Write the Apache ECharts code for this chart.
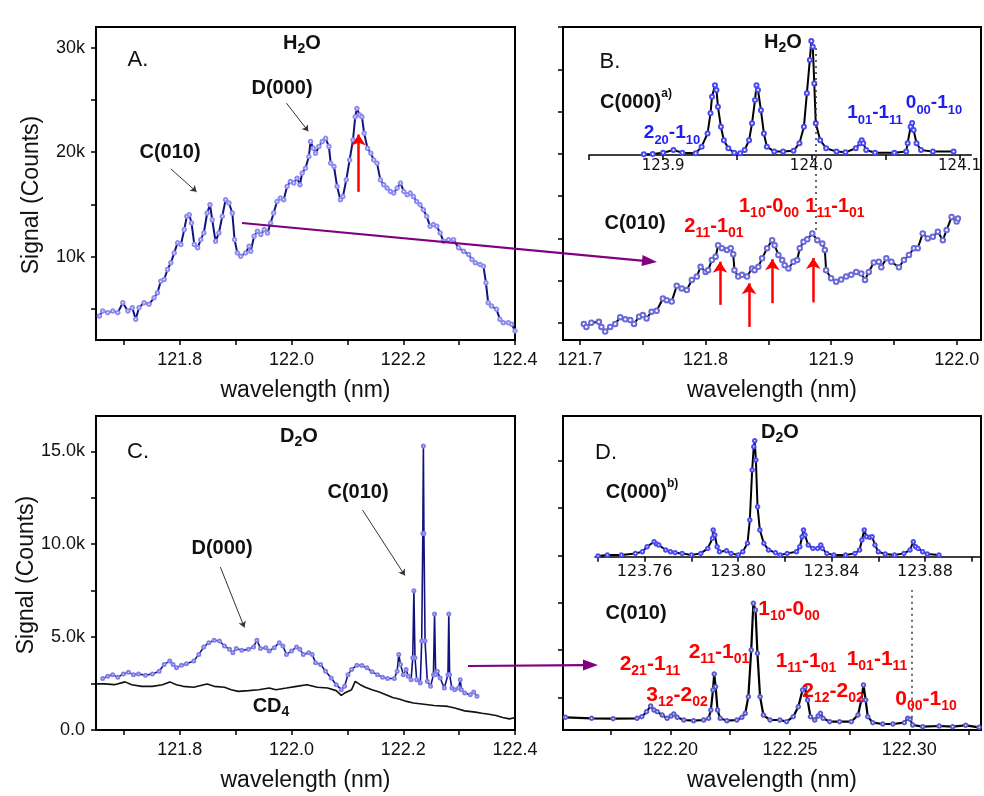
<!DOCTYPE html>
<html><head><meta charset="utf-8">
<script src="https://cdn.jsdelivr.net/npm/echarts@6/dist/echarts.min.js"></script>
<style>html,body{margin:0;padding:0;background:#fff}#c{width:984px;height:796px}</style>
</head><body><div id="c"></div>
<script>
// ---------- DATA (wavelength nm, signal) ----------
// Panel A: H2O survey, signal in k counts
const h2oSurvey = [[121.656,4.30],[121.662,4.78],[121.671,4.62],[121.680,4.78],[121.689,4.62],[121.698,5.57],[121.707,4.78],[121.715,5.10],[121.721,3.98],[121.727,5.10],[121.736,5.57],[121.745,5.42],[121.754,6.05],[121.760,6.53],[121.766,7.64],[121.772,7.80],[121.778,8.76],[121.784,9.40],[121.790,10.35],[121.796,11.31],[121.802,11.15],[121.808,12.58],[121.8125,13.85],[121.817,14.01],[121.821,13.22],[121.826,11.15],[121.832,10.83],[121.8375,11.62],[121.843,12.26],[121.849,14.17],[121.854,14.97],[121.858,13.53],[121.864,11.46],[121.870,12.26],[121.876,13.85],[121.882,15.44],[121.888,15.13],[121.894,14.17],[121.898,11.62],[121.903,10.35],[121.909,10.03],[121.918,10.35],[121.924,10.99],[121.927,10.51],[121.933,11.94],[121.939,12.42],[121.945,12.10],[121.951,12.58],[121.957,12.26],[121.9625,13.22],[121.968,14.17],[121.974,15.28],[121.980,15.60],[121.986,15.44],[121.992,16.72],[121.998,17.20],[122.004,17.04],[122.010,17.51],[122.015,16.88],[122.019,17.99],[122.025,18.47],[122.031,19.58],[122.034,21.02],[122.039,20.38],[122.043,19.90],[122.049,20.54],[122.055,21.02],[122.061,21.33],[122.067,20.54],[122.070,18.95],[122.076,18.63],[122.0815,16.72],[122.0875,15.44],[122.092,15.76],[122.098,17.35],[122.104,19.26],[122.110,21.17],[122.114,23.40],[122.117,24.20],[122.122,23.56],[122.126,23.40],[122.130,21.81],[122.136,20.38],[122.142,19.90],[122.147,19.26],[122.153,18.95],[122.159,17.35],[122.165,16.88],[122.171,16.56],[122.177,16.24],[122.183,16.08],[122.189,16.56],[122.195,17.04],[122.201,16.24],[122.207,15.92],[122.2125,16.08],[122.218,15.76],[122.224,15.28],[122.230,14.97],[122.236,14.49],[122.242,13.85],[122.248,12.90],[122.254,13.06],[122.260,12.90],[122.266,12.26],[122.272,11.46],[122.281,11.62],[122.290,11.62],[122.299,10.83],[122.308,10.51],[122.317,10.19],[122.323,9.71],[122.329,9.40],[122.3375,9.24],[122.3435,9.08],[122.348,7.48],[122.352,5.57],[122.358,5.26],[122.367,4.94],[122.373,3.98],[122.379,3.66],[122.388,3.66],[122.394,3.51],[122.400,2.87]];

// Panel B lower: H2O C(010), arbitrary units
const h2oC010 = [[121.703,3.8],[121.705,3.1],[121.709,4.1],[121.715,4.3],[121.717,3.1],[121.720,2.0],[121.724,3.1],[121.728,3.8],[121.732,5.4],[121.736,4.9],[121.740,4.7],[121.743,3.8],[121.747,5.5],[121.750,5.9],[121.753,5.1],[121.757,6.7],[121.761,6.9],[121.766,9.8],[121.769,9.4],[121.773,9.1],[121.777,12.8],[121.781,12.2],[121.785,11.8],[121.789,14.2],[121.793,15.0],[121.796,17.3],[121.800,16.1],[121.802,16.5],[121.805,18.9],[121.808,19.7],[121.810,22.4],[121.813,21.7],[121.817,21.3],[121.820,21.7],[121.822,20.3],[121.823,16.5],[121.826,15.0],[121.829,15.4],[121.833,15.0],[121.837,16.9],[121.839,16.5],[121.842,17.3],[121.845,19.3],[121.849,21.7],[121.853,23.6],[121.855,22.4],[121.858,20.1],[121.861,18.9],[121.863,17.7],[121.866,16.9],[121.870,18.5],[121.873,18.9],[121.875,21.7],[121.878,23.2],[121.881,23.8],[121.885,25.2],[121.889,23.6],[121.893,22.8],[121.895,21.3],[121.896,16.5],[121.900,14.6],[121.904,13.8],[121.908,14.3],[121.912,15.0],[121.916,15.4],[121.920,16.1],[121.924,15.7],[121.927,14.2],[121.930,16.1],[121.934,18.3],[121.938,18.5],[121.940,17.2],[121.944,19.3],[121.948,18.5],[121.954,17.2],[121.958,18.9],[121.962,20.1],[121.966,21.7],[121.969,21.7],[121.973,25.2],[121.977,24.0],[121.981,24.4],[121.985,25.6],[121.989,23.6],[121.992,26.0],[121.996,29.1],[122.000,28.0],[122.001,28.7]];

// Panel B inset: H2O C(000)
const h2oC000 = [[123.887,0.16],[123.893,0.24],[123.900,0.55],[123.907,1.18],[123.913,0.55],[123.922,0.39],[123.926,1.97],[123.930,5.1],[123.932,9.9],[123.933,13.8],[123.935,16.5],[123.936,15.4],[123.937,11.4],[123.939,6.7],[123.941,3.5],[123.944,1.6],[123.948,0.55],[123.952,0.39],[123.955,1.18],[123.958,3.5],[123.960,7.5],[123.962,13.0],[123.963,16.5],[123.964,15.4],[123.966,10.6],[123.968,5.1],[123.970,1.97],[123.975,0.8],[123.981,0.8],[123.988,1.0],[123.992,2.8],[123.995,6.7],[123.997,14.6],[123.999,22.5],[124.000,27.0],[124.001,25.6],[124.002,16.9],[124.003,7.5],[124.006,3.5],[124.010,1.6],[124.017,0.8],[124.023,0.63],[124.030,1.6],[124.033,2.8],[124.034,3.5],[124.035,2.8],[124.037,1.18],[124.043,0.55],[124.056,0.55],[124.064,0.8],[124.065,2.8],[124.067,6.7],[124.068,7.6],[124.069,5.9],[124.071,2.8],[124.074,1.18],[124.082,0.8],[124.096,0.8]];

// Panel C: D2O survey and CD4 reference, k counts
const d2oSurvey = [[121.662,2.77],[121.671,2.89],[121.680,2.98],[121.689,2.84],[121.699,3.02],[121.708,3.11],[121.717,2.98],[121.726,3.02],[121.7385,2.95],[121.751,3.02],[121.763,3.16],[121.772,3.53],[121.782,3.71],[121.788,3.53],[121.794,3.35],[121.803,3.49],[121.812,3.56],[121.825,3.71],[121.834,4.07],[121.843,4.47],[121.852,4.70],[121.8615,4.83],[121.871,4.79],[121.880,4.52],[121.889,4.34],[121.895,4.16],[121.901,4.39],[121.911,4.29],[121.923,4.34],[121.932,4.47],[121.938,4.83],[121.9445,4.39],[121.954,4.43],[121.960,4.25],[121.969,4.43],[121.978,4.70],[121.9845,4.52],[121.991,4.07],[122.000,4.25],[122.009,4.47],[122.015,4.34],[122.021,4.07],[122.031,4.16],[122.037,4.07],[122.043,3.62],[122.052,3.53],[122.061,3.16],[122.071,2.80],[122.080,2.44],[122.089,2.17],[122.095,2.35],[122.101,2.98],[122.1075,3.25],[122.117,3.49],[122.126,3.47],[122.135,3.35],[122.144,3.13],[122.154,2.98],[122.163,2.84],[122.172,2.77],[122.184,2.77],[122.189,3.16],[122.192,4.07],[122.195,3.53],[122.200,2.98],[122.205,3.25],[122.209,2.89],[122.214,2.71],[122.217,3.89],[122.219,7.50],[122.221,3.89],[122.224,2.71],[122.2305,2.53],[122.233,4.79],[122.235,10.58],[122.236,15.28],[122.237,10.58],[122.239,4.79],[122.243,2.62],[122.249,2.35],[122.254,2.98],[122.256,6.24],[122.258,2.98],[122.261,3.16],[122.266,2.80],[122.2735,2.26],[122.280,2.98],[122.2815,6.24],[122.283,2.98],[122.287,2.26],[122.292,2.17],[122.299,2.26],[122.302,2.71],[122.304,2.17],[122.310,1.99],[122.320,1.90],[122.326,2.04],[122.332,1.81]];
const cd4Survey = [[121.652,2.48],[121.665,2.48],[121.683,2.44],[121.702,2.59],[121.714,2.44],[121.732,2.35],[121.751,2.35],[121.769,2.44],[121.782,2.59],[121.794,2.44],[121.806,2.35],[121.825,2.30],[121.843,2.44],[121.849,2.48],[121.8615,2.35],[121.880,2.30],[121.892,2.17],[121.9045,2.08],[121.923,2.12],[121.9415,2.17],[121.960,2.26],[121.972,2.17],[121.991,2.26],[122.009,2.35],[122.0275,2.44],[122.046,2.30],[122.0645,2.26],[122.080,2.12],[122.089,1.86],[122.095,1.99],[122.1075,2.17],[122.114,2.62],[122.123,2.44],[122.132,2.30],[122.144,2.17],[122.157,2.04],[122.169,1.90],[122.181,1.75],[122.194,1.66],[122.206,1.54],[122.218,1.45],[122.237,1.39],[122.255,1.32],[122.280,1.27],[122.292,1.18],[122.310,1.03],[122.329,0.96],[122.341,0.90],[122.3535,0.85],[122.366,0.78],[122.378,0.67],[122.390,0.60],[122.401,0.67]];

// Panel D lower: D2O C(010); inset: D2O C(000)
const d2oC010 = [[122.156,2.68],[122.167,2.47],[122.176,2.40],[122.186,2.47],[122.188,2.82],[122.190,3.88],[122.1917,5.07],[122.1931,4.23],[122.1944,3.88],[122.1965,3.17],[122.1986,2.47],[122.2003,2.96],[122.2014,3.38],[122.2028,2.68],[122.2056,2.11],[122.2097,1.97],[122.2139,2.11],[122.216,2.47],[122.2169,4.23],[122.2178,8.46],[122.2183,11.84],[122.2189,9.16],[122.2197,4.23],[122.2208,2.47],[122.2236,1.97],[122.2278,2.11],[122.2299,2.68],[122.2313,3.52],[122.2326,7.05],[122.2338,16.91],[122.2347,26.8],[122.2356,25.37],[122.2364,16.21],[122.2375,7.05],[122.2389,3.17],[122.2417,2.11],[122.2458,2.11],[122.2486,1.76],[122.2514,2.82],[122.2535,4.93],[122.2553,8.46],[122.2563,9.02],[122.2574,6.34],[122.2586,2.82],[122.2604,2.11],[122.2618,2.96],[122.2628,3.52],[122.2639,2.47],[122.2667,1.76],[122.2708,1.76],[122.2757,1.76],[122.2785,3.17],[122.2799,6.34],[122.2808,9.51],[122.2817,6.34],[122.2826,2.82],[122.2847,1.55],[122.2889,1.27],[122.2931,1.27],[122.2979,1.55],[122.2993,2.47],[122.3003,2.26],[122.3014,1.06],[122.3056,0.70],[122.3125,0.85],[122.3181,0.70],[122.3236,0.99],[122.3292,0.56]];
const d2oC000 = [[123.740,0.14],[123.744,0.35],[123.750,0.35],[123.756,0.70],[123.759,1.06],[123.761,2.11],[123.764,3.17],[123.765,2.68],[123.766,2.47],[123.769,1.41],[123.771,1.06],[123.773,0.85],[123.776,0.70],[123.780,0.35],[123.784,0.70],[123.787,1.76],[123.789,3.88],[123.7893,5.64],[123.790,4.58],[123.791,2.11],[123.792,1.06],[123.795,1.27],[123.797,0.70],[123.800,0.35],[123.802,1.06],[123.804,2.82],[123.805,7.75],[123.806,18.32],[123.8067,23.26],[123.8071,24.52],[123.8076,20.44],[123.8083,10.57],[123.8093,5.64],[123.811,2.82],[123.813,1.41],[123.816,0.85],[123.818,0.35],[123.821,0.70],[123.825,1.06],[123.8264,2.11],[123.8274,4.23],[123.828,5.64],[123.8286,4.58],[123.830,2.47],[123.832,1.76],[123.834,1.76],[123.8354,2.47],[123.836,1.76],[123.838,0.70],[123.841,0.35],[123.846,0.35],[123.850,0.70],[123.852,1.41],[123.853,3.52],[123.854,5.64],[123.855,4.23],[123.8564,4.09],[123.8574,4.23],[123.8586,2.47],[123.860,1.06],[123.863,0.56],[123.867,0.35],[123.871,0.70],[123.8736,1.41],[123.875,3.17],[123.876,2.11],[123.877,1.76],[123.879,1.06],[123.881,0.56],[123.886,0.35]];

// Arrow / marker positions in data units
const redArrowA = [[122.12,16.2,21.7]];
const redArrowsB = [[121.8115,8.3,18.5],[121.8346,3.1,13.4],[121.8532,8.7,19.1],[121.8858,8.9,19.4]];
const pointerA = [[[121.784,18.4],[121.830,16.2]],[[121.991,24.7],[122.030,22.0]]];
const pointerC = [[[122.127,11.84],[122.2028,8.32]],[[121.8726,8.77],[121.9156,5.52]]];
const dottedB = [[121.888,26],[121.888,70]];
const dottedD = [[122.301,2.6],[122.301,29.6]];

// Tick values and labels
const ticksSurveyX = [121.7,121.8,121.9,122.0,122.1,122.2,122.3,122.4];
const labelsSurveyX = [121.8,122.0,122.2,122.4];
const ticksAY = [5,10,15,20,25,30];
const labelsAY = [10,20,30];
const ticksBX = [121.7,121.75,121.8,121.85,121.9,121.95,122.0];
const labelsBX = [121.7,121.8,121.9,122.0];
const ticksBY = [4,14,24,34,44,54,64,74];
const ticksBInsetX = [123.85,123.9,123.95,124.0,124.05,124.1];
const labelsBInsetX = [123.9,124.0,124.1];
const ticksCY = [0,2.5,5,7.5,10,12.5,15];
const labelsCY = [0,5,10,15];
const ticksDX = [122.175,122.2,122.225,122.25,122.275,122.3,122.325];
const labelsDX = [122.2,122.25,122.3];
const ticksDY = [6.9,16.9,26.9,36.9,46.9,56.9];
const ticksDInsetX = [123.74,123.76,123.78,123.8,123.82,123.84,123.86,123.88,123.9];
const labelsDInsetX = [123.76,123.8,123.84,123.88];

// ---------- CHART ----------
const FONT = '"Liberation Sans", Arial, Helvetica, sans-serif';
const chart = echarts.init(document.getElementById('c'), null, {renderer:'canvas'});

function gridBox(l,t,w,h,show){return {left:l,top:t,width:w,height:h,show:!!show,borderColor:'#000',borderWidth:2,backgroundColor:'transparent',containLabel:false};}
function xAx(gi,min,max,ticks,labels,dec,opts){
  opts = opts||{};
  return Object.assign({type:'value',gridIndex:gi,min,max,position:'bottom',
    axisLine:{show:true,onZero:false,lineStyle:{color:'#000',width:opts.lw||2}},
    axisTick:{show:true,inside:false,length:5,lineStyle:{color:'#000',width:1.5},customValues:ticks},
    axisLabel:{show:true,customValues:labels,formatter:v=>v.toFixed(dec),fontSize:opts.fs||18,fontFamily:opts.ff||FONT,color:'#111',margin:opts.margin!=null?opts.margin:11},
    splitLine:{show:false}},
    opts.name?{name:opts.name,nameLocation:'middle',nameGap:39,nameTextStyle:{fontSize:23,fontFamily:FONT,color:'#111'}}:{});
}
function yAx(gi,min,max,ticks,labels,fmt,show){
  return {type:'value',gridIndex:gi,min,max,show:show!==false,
    axisLine:{show:true,onZero:false,lineStyle:{color:'#000',width:2}},
    axisTick:{show:true,inside:false,length:5,lineStyle:{color:'#000',width:1.5},customValues:ticks},
    axisLabel:{show:!!labels,customValues:labels||[],formatter:fmt,fontSize:18,fontFamily:FONT,color:'#111',margin:11},
    splitLine:{show:false}};
}
function vArrows(list,color,width,size){
  return {silent:true,animation:false,symbol:['none','arrow'],symbolSize:size,
    label:{show:false},emphasis:{disabled:true},
    lineStyle:{color,width,type:'solid'},
    data:list.map(a=>[{coord:[a[0],a[1]]},{coord:[a[0],a[2]]}])};
}
function segArrows(list,color,width,size){
  return {silent:true,animation:false,symbol:['none','arrow'],symbolSize:size,
    label:{show:false},emphasis:{disabled:true},
    lineStyle:{color,width,type:'solid'},
    data:list.map(s=>[{coord:s[0]},{coord:s[1]}])};
}
function dotted(seg){
  return {silent:true,animation:false,symbol:['none','none'],label:{show:false},emphasis:{disabled:true},
    lineStyle:{color:'#333',width:1.5,type:[2,4]},data:[[{coord:seg[0]},{coord:seg[1]}]]};
}
function lineSeries(xi,data,lineColor,lw,mark,msize,extra){
  return Object.assign({type:'line',xAxisIndex:xi,yAxisIndex:xi,data,silent:true,
    showSymbol:!!mark,showAllSymbol:true,symbol:'emptyCircle',symbolSize:msize||4,
    itemStyle:{color:mark||lineColor,borderWidth:1},
    lineStyle:{color:lineColor,width:lw},emphasis:{disabled:true},z:3},extra||{});
}

// text helpers: main glyphs top-aligned, subscripts bottom-aligned in a taller line
function parseSub(str){return str.split(/(_\d+)/).filter(Boolean).map(t=>t[0]==='_'?[t.slice(1),true]:[t,false]);}
function subLabel(x,yc,str,color,ms,ss,drop){
  drop = drop||7;
  const L = Math.round(ms/2 + drop + ss/2);
  const text = parseSub(str).map(p=>'{'+(p[1]?'s':'m')+'|'+p[0]+'}').join('');
  return {type:'text',x,y:yc-ms/2,silent:true,z:100,
    style:{text,align:'center',verticalAlign:'top',textAlign:'center',textVerticalAlign:'top',
      rich:{m:{fontSize:ms,fontWeight:'bold',fontFamily:FONT,lineHeight:L,verticalAlign:'top',fill:color},
            s:{fontSize:ss,fontWeight:'bold',fontFamily:FONT,lineHeight:L,verticalAlign:'bottom',fill:color}}}};
}
function supLabel(x,yc,main,sup){
  const ms=20, L=24;
  return {type:'text',x,y:yc-(L-ms/2),silent:true,z:100,
    style:{text:'{m|'+main+'}{p|'+sup+'}',align:'center',verticalAlign:'top',textAlign:'center',textVerticalAlign:'top',
      rich:{m:{fontSize:ms,fontWeight:'bold',fontFamily:FONT,lineHeight:L,verticalAlign:'bottom',fill:'#111'},
            p:{fontSize:12,fontWeight:'bold',fontFamily:FONT,lineHeight:L,verticalAlign:'top',fill:'#111'}}}};
}
function plain(x,y,text,size,weight,rot){
  return {type:'text',x,y,rotation:rot||0,silent:true,z:100,
    style:{text,fontSize:size,fontWeight:weight||'normal',fontFamily:FONT,fill:'#111',
      align:'center',verticalAlign:'middle',textAlign:'center',textVerticalAlign:'middle'}};
}
function purpleArrow(x1,y1,x2,y2){
  const L=15,W=5.5, dx=x2-x1, dy=y2-y1, len=Math.hypot(dx,dy), ux=dx/len, uy=dy/len;
  const bx=x2-ux*L, by=y2-uy*L;
  return [{type:'line',silent:true,z:90,shape:{x1,y1,x2:bx+ux*2,y2:by+uy*2},style:{stroke:'#800080',lineWidth:2.2}},
    {type:'polygon',silent:true,z:90,shape:{points:[[x2,y2],[bx-uy*W,by+ux*W],[bx+uy*W,by-ux*W]]},style:{fill:'#800080'}}];
}

const RED='#ff0000', BLUE='#1e1ef0';
const graphics = [
  plain(32,195,'Signal (Counts)',23,'normal',Math.PI/2),
  plain(27,575,'Signal (Counts)',23,'normal',Math.PI/2),
  plain(138,60,'A.',22), plain(610,62,'B.',22), plain(138,452,'C.',22), plain(606,453,'D.',22),
  plain(282,88,'D(000)',20,'bold'), plain(170,152,'C(010)',20,'bold'),
  plain(635,223,'C(010)',20,'bold'),
  plain(358,492,'C(010)',20,'bold'), plain(222,548,'D(000)',20,'bold'),
  plain(636,613,'C(010)',20,'bold'),
  subLabel(302,43,'H_2O','#111',20,14,6), subLabel(783,42,'H_2O','#111',20,14,6),
  subLabel(299,436,'D_2O','#111',20,14,6), subLabel(780,432,'D_2O','#111',20,14,6),
  subLabel(271,706,'CD_4','#111',20,14,6),
  supLabel(636,102,'C(000)','a)'), supLabel(642,492,'C(000)','b)'),
  subLabel(672,133,'2_20-1_10',BLUE,19,13), subLabel(875,113,'1_01-1_11',BLUE,19,13), subLabel(934,103,'0_00-1_10',BLUE,19,13),
  subLabel(714,226,'2_11-1_01',RED,20,14), subLabel(769,206,'1_10-0_00',RED,20,14), subLabel(835,206,'1_11-1_01',RED,20,14),
  subLabel(789,609,'1_10-0_00',RED,21,14), subLabel(650,664,'2_21-1_11',RED,21,14), subLabel(677,695,'3_12-2_02',RED,21,14),
  subLabel(719,652,'2_11-1_01',RED,21,14), subLabel(806,661,'1_11-1_01',RED,21,14), subLabel(833,691,'2_12-2_02',RED,21,14),
  subLabel(877,659,'1_01-1_11',RED,21,14), subLabel(926,699,'0_00-1_10',RED,21,14)
].concat(purpleArrow(242,223,657,262), purpleArrow(468,666,598,665));

const option = {
  animation:false,
  backgroundColor:'#fff',
  grid:[gridBox(96,27,419,313,true), gridBox(563,27,418,313,true), gridBox(589,27,392,128,false),
        gridBox(96,416,419,314,true), gridBox(563,416,418,314,true), gridBox(595,416,386,140.7,false)],
  xAxis:[
    xAx(0,121.65,122.4,ticksSurveyX,labelsSurveyX,1,{name:'wavelength (nm)'}),
    xAx(1,121.6864,122.0194,ticksBX,labelsBX,1,{name:'wavelength (nm)'}),
    xAx(2,123.85,124.108,ticksBInsetX,labelsBInsetX,1,{fs:15,ff:'"DejaVu Sans", sans-serif',margin:4,lw:1.5}),
    xAx(3,121.65,122.4,ticksSurveyX,labelsSurveyX,1,{name:'wavelength (nm)'}),
    xAx(4,122.155,122.33,ticksDX,labelsDX,2,{name:'wavelength (nm)'}),
    xAx(5,123.7387,123.904,ticksDInsetX,labelsDInsetX,2,{fs:16,ff:'"DejaVu Sans", sans-serif',margin:7,lw:1.5})
  ],
  yAxis:[
    yAx(0,2,32,ticksAY,labelsAY,v=>v+'k'),
    yAx(1,0,74,ticksBY,null),
    yAx(2,0,30.3,[],null,null,false),
    yAx(3,0,16.9,ticksCY,labelsCY,v=>v===0?'0.0':v.toFixed(1)+'k'),
    yAx(4,0,66.4,ticksDY,null),
    yAx(5,0,29.75,[],null,null,false)
  ],
  graphic:{elements:graphics},
  series:[
    lineSeries(0,h2oSurvey,'#12127e',2,'#8c8cf0',3.5,{markLine:vArrows(redArrowA,RED,2.5,11)}),
    lineSeries(0,[],'#000',1,null,0,{markLine:segArrows(pointerA,'#333',1,6)}),
    lineSeries(1,h2oC010,'#000',2,'#6a6ad8',4.5,{markLine:vArrows(redArrowsB,RED,2.5,11)}),
    lineSeries(1,[],'#000',1,null,0,{markLine:dotted(dottedB)}),
    lineSeries(2,h2oC000,'#000',2,'#4a4af5',4),
    lineSeries(3,d2oSurvey,'#12127e',1.6,'#8080e8',3,{markLine:segArrows(pointerC,'#333',1,6)}),
    lineSeries(3,cd4Survey,'#111',1.6,null,0),
    lineSeries(4,d2oC010,'#000',2.2,'#5a5ad0',3.5),
    lineSeries(4,[],'#000',1,null,0,{markLine:dotted(dottedD)}),
    lineSeries(5,d2oC000,'#000',2,'#4a4af5',3.5)
  ]
};
chart.setOption(option);
</script></body></html>
